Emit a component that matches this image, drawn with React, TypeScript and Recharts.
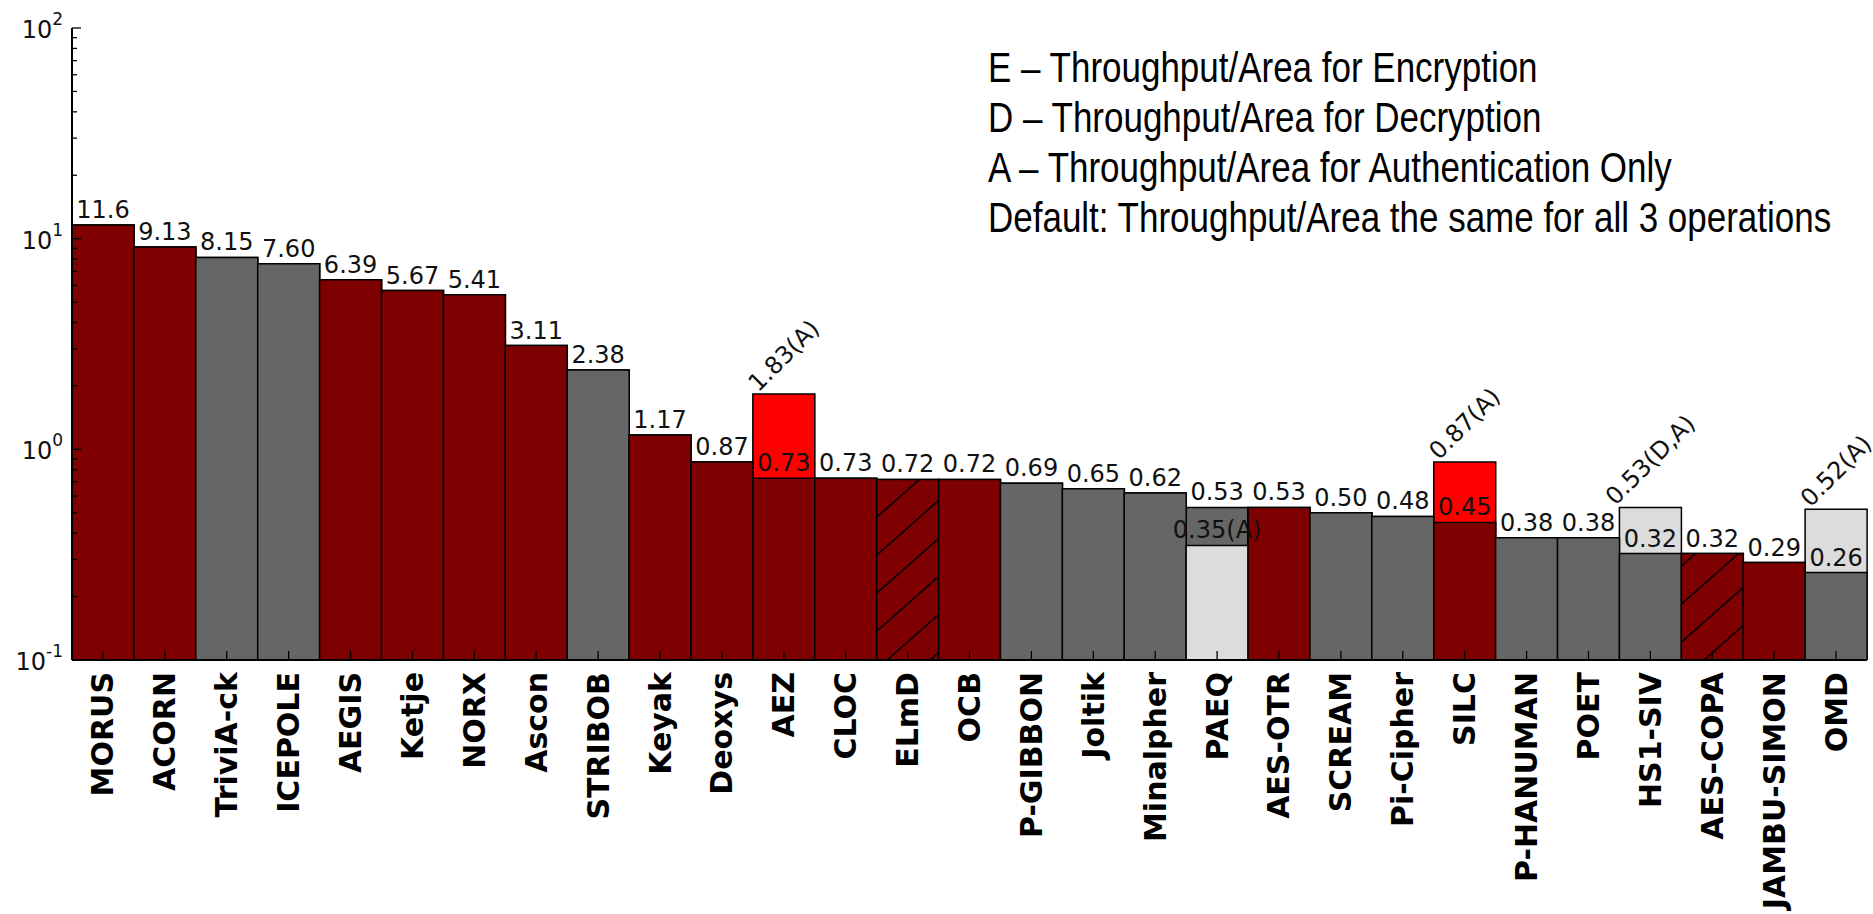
import React from "react";
import { BarChart, Bar, XAxis, YAxis, Cell, LabelList } from "recharts";

const names = [
  "MORUS", "ACORN", "TriviA-ck", "ICEPOLE", "AEGIS", "Ketje", "NORX", "Ascon",
  "STRIBOB", "Keyak", "Deoxys", "AEZ", "CLOC", "ELmD", "OCB", "P-GIBBON",
  "Joltik", "Minalpher", "PAEQ", "AES-OTR", "SCREAM", "Pi-Cipher", "SILC",
  "P-HANUMAN", "POET", "HS1-SIV", "AES-COPA", "JAMBU-SIMON", "OMD",
];

// throughput/area (default, or encryption where operations differ)
const values = [
  11.6, 9.13, 8.15, 7.6, 6.39, 5.67, 5.41, 3.11, 2.38, 1.17, 0.87, 0.73, 0.73,
  0.72, 0.72, 0.69, 0.65, 0.62, 0.53, 0.53, 0.5, 0.48, 0.45, 0.38, 0.38, 0.32,
  0.32, 0.29, 0.26,
];

// second value for the other operations (null = same for all 3)
const altValues: (number | null)[] = [
  null, null, null, null, null, null, null, null, null, null, null, 1.83, null,
  null, null, null, null, null, 0.35, null, null, null, 0.87, null, null, 0.53,
  null, null, 0.52,
];
const altTags: (string | null)[] = [
  null, null, null, null, null, null, null, null, null, null, null, "A", null,
  null, null, null, null, null, "A", null, null, null, "A", null, null, "D,A",
  null, null, "A",
];

// r = red family, g = grey family
const groups = [
  "r", "r", "g", "g", "r", "r", "r", "r", "g", "r", "r", "r", "r", "r", "r",
  "g", "g", "g", "g", "r", "g", "g", "r", "g", "g", "g", "r", "r", "g",
];
const hatched = ["ELmD", "AES-COPA"];

const yTicks = [
  0.1, 0.2, 0.3, 0.4, 0.5, 0.6, 0.7, 0.8, 0.9,
  1, 2, 3, 4, 5, 6, 7, 8, 9,
  10, 20, 30, 40, 50, 60, 70, 80, 90, 100,
];

const legendLines = [
  "E \u2013 Throughput/Area for Encryption",
  "D \u2013 Throughput/Area for Decryption",
  "A \u2013 Throughput/Area for Authentication Only",
  "Default: Throughput/Area the same for all 3 operations",
];

const Y_MIN = 0.1;
const W = 1873;
const H = 914;
const PLOT_LEFT = 72;
const PLOT_RIGHT = 1867;

const mainColor: Record<string, string> = { r: "#7f0000", g: "#666666" };
const altColor: Record<string, string> = { r: "#ff0000", g: "#dcdcdc" };

const rows = names.map((name, i) => {
  const v = values[i];
  const a = altValues[i];
  const hi = a != null ? Math.max(v, a) : v;
  const lo = a != null ? Math.min(v, a) : v;
  return {
    name,
    v,
    a,
    tag: altTags[i],
    group: groups[i],
    hatch: hatched.includes(name),
    hiRange: [Y_MIN, hi],
    loRange: [Y_MIN, lo],
  };
});

const fmt = (v: number) => (v >= 10 ? v.toFixed(1) : v.toFixed(2));

const charW: Record<string, number> = {
  ".": 0.318, ",": 0.318, "(": 0.39, ")": 0.39, A: 0.684, D: 0.77,
};
const textWidth = (s: string, fs: number) =>
  s.split("").reduce((acc, c) => acc + (charW[c] ?? 0.636), 0) * fs;

const VAL_FS = 24;
const valueText = {
  fontFamily: "DejaVu Sans",
  fontSize: VAL_FS,
  fill: "#111",
};

const fillFor = (r: (typeof rows)[number], useAlt: boolean) => {
  if (useAlt) return altColor[r.group];
  if (r.hatch) return "url(#hatch)";
  return mainColor[r.group];
};

const boxOf = (p: any) => {
  const vb = p.viewBox && p.viewBox.width != null ? p.viewBox : p;
  return { x: Number(vb.x), y: Number(vb.y), width: Number(vb.width) };
};

const HiLabel = (p: any) => {
  const r = rows[p.index];
  if (!r) return null;
  const { x, y, width } = boxOf(p);
  const cx = x + width / 2;
  if (r.a != null && r.a > r.v) {
    const s = `${fmt(r.a)}(${r.tag})`;
    const off = ((textWidth(s, VAL_FS) + VAL_FS * 0.7) * 0.7071) / 2 + 1;
    const cy = y - off;
    return (
      <text
        x={cx}
        y={cy}
        transform={`rotate(-45 ${cx} ${cy})`}
        textAnchor="middle"
        dominantBaseline="central"
        {...valueText}
      >
        {s}
      </text>
    );
  }
  return (
    <text x={cx} y={y - 7} textAnchor="middle" {...valueText}>
      {fmt(r.v)}
    </text>
  );
};

const LoLabel = (p: any) => {
  const r = rows[p.index];
  if (!r || r.a == null) return null;
  const { x, y, width } = boxOf(p);
  const cx = x + width / 2;
  const s = r.a > r.v ? fmt(r.v) : `${fmt(r.a)}(${r.tag})`;
  return (
    <text x={cx} y={y - 7} textAnchor="middle" {...valueText}>
      {s}
    </text>
  );
};

const isMajor = (v: number) => {
  const l = Math.log10(v);
  return Math.abs(l - Math.round(l)) < 1e-6;
};

const LeftTick = (p: any) => {
  const { y, payload } = p;
  const v = payload.value;
  const major = isMajor(v);
  const exp = Math.round(Math.log10(v));
  return (
    <g>
      <line x1={PLOT_LEFT} x2={PLOT_LEFT + (major ? 9 : 5)} y1={y} y2={y} stroke="#000" strokeWidth={1.3} />
      {major && (
        <text
          x={PLOT_LEFT - 9}
          y={y + 10}
          textAnchor="end"
          fontFamily="DejaVu Sans"
          fontSize={24}
          fill="#111"
        >
          10
          <tspan dy={-13} fontSize={17}>
            {exp}
          </tspan>
        </text>
      )}
    </g>
  );
};

const RightTick = (p: any) => {
  const { y, payload } = p;
  const major = isMajor(payload.value);
  return (
    <line x1={PLOT_RIGHT} x2={PLOT_RIGHT - (major ? 9 : 5)} y1={y} y2={y} stroke="#000" strokeWidth={1.3} />
  );
};

const NameTick = (p: any) => {
  const { x, y, payload } = p;
  const ty = y + 12;
  return (
    <g>
      <line x1={x} x2={x} y1={y} y2={y - 9} stroke="#000" strokeWidth={1.3} />
      <text
        x={x}
        y={ty}
        transform={`rotate(-90 ${x} ${ty})`}
        textAnchor="end"
        dominantBaseline="central"
        fontFamily="DejaVu Sans"
        fontWeight="bold"
        fontSize={30}
        fill="#000"
      >
        {payload.value}
      </text>
    </g>
  );
};

const TopTick = (p: any) => {
  const { x, y } = p;
  return <line x1={x} x2={x} y1={y} y2={y + 9} stroke="#000" strokeWidth={1.3} />;
};

export default function App() {
  return (
    <div style={{ position: "absolute", left: 0, top: 0, width: W, height: H, background: "#fff" }}>
      <BarChart
        width={W}
        height={H}
        data={rows}
        margin={{ top: 28, right: W - PLOT_RIGHT, left: 0, bottom: 0 }}
        barCategoryGap={0}
        barGap={0}
      >
        <defs>
          <pattern id="hatch" patternUnits="userSpaceOnUse" width={43} height={38}>
            <rect width={43} height={38} fill="#7f0000" />
            <path
              d="M0,38 L43,0 M-21.5,19 L21.5,-19 M21.5,57 L64.5,19"
              stroke="#000"
              strokeWidth={1.5}
            />
          </pattern>
        </defs>
        <Bar
          xAxisId="b"
          yAxisId="l"
          dataKey="hiRange"
          isAnimationActive={false}
          stroke="#000"
          strokeWidth={1.5}
        >
          {rows.map((r) => (
            <Cell key={`hi-${r.name}`} fill={fillFor(r, r.a != null && r.a > r.v)} />
          ))}
          <LabelList dataKey="v" content={HiLabel} />
        </Bar>
        <Bar
          xAxisId="t"
          yAxisId="l"
          dataKey="loRange"
          isAnimationActive={false}
          stroke="#000"
          strokeWidth={1.5}
        >
          {rows.map((r) => (
            <Cell key={`lo-${r.name}`} fill={fillFor(r, r.a != null && r.a < r.v)} />
          ))}
          <LabelList dataKey="v" content={LoLabel} />
        </Bar>
        <XAxis
          xAxisId="b"
          dataKey="name"
          interval={0}
          height={H - 660}
          tickSize={0}
          tickMargin={0}
          tickLine={false}
          tick={<NameTick />}
          axisLine={{ stroke: "#000", strokeWidth: 2 }}
        />
        <XAxis
          xAxisId="t"
          dataKey="name"
          orientation="top"
          interval={0}
          height={0}
          tickSize={0}
          tickMargin={0}
          tickLine={false}
          tick={<TopTick />}
          axisLine={{ stroke: "#000", strokeWidth: 2 }}
        />
        <YAxis
          yAxisId="l"
          scale="log"
          domain={[0.1, 100]}
          allowDataOverflow
          ticks={yTicks}
          interval={0}
          width={PLOT_LEFT}
          tickSize={0}
          tickMargin={0}
          tickLine={false}
          tick={<LeftTick />}
          axisLine={{ stroke: "#000", strokeWidth: 2 }}
        />
        <YAxis
          yAxisId="r"
          orientation="right"
          scale="log"
          domain={[0.1, 100]}
          allowDataOverflow
          ticks={yTicks}
          interval={0}
          width={0}
          tickSize={0}
          tickMargin={0}
          tickLine={false}
          tick={<RightTick />}
          axisLine={{ stroke: "#000", strokeWidth: 2 }}
        />
      </BarChart>
      <svg
        width={W}
        height={H}
        style={{ position: "absolute", left: 0, top: 0, pointerEvents: "none" }}
      >
        {legendLines.map((line, i) => (
          <text
            key={line}
            transform={`translate(988 ${82 + i * 50}) scale(0.833 1)`}
            fontFamily="Liberation Sans"
            fontSize={42}
            fill="#000"
          >
            {line}
          </text>
        ))}
      </svg>
    </div>
  );
}
